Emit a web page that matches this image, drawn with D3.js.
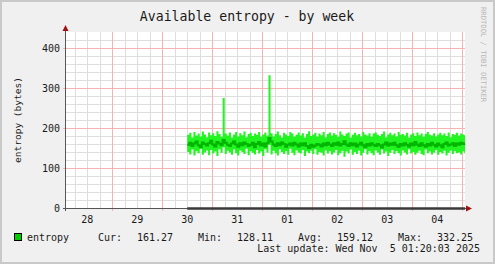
<!DOCTYPE html>
<html>
<head>
<meta charset="utf-8">
<script src="https://cdn.jsdelivr.net/npm/d3@7"></script>
<style>
  body { margin: 0; background: #f0f0f0; }
  text { font-family: "DejaVu Sans Mono", monospace; fill: #1a1a1a; }
</style>
</head>
<body>
<div id="visualize"></div>
<script>
// hourly samples starting Oct 30 12:00
var maxValues = [
  183,188,176,190,181,186,179,191,184,177,
  189,182,187,180,192,185,178,275,186,181,
  189,176,184,190,179,187,182,191,177,185,
  188,180,186,183,190,178,184,189,181,332,
  187,179,185,191,182,176,188,184,180,190,
  186,178,183,189,181,187,176,185,192,180,
  184,188,179,186,182,190,177,185,189,181,
  187,183,178,191,184,180,186,189,176,183,
  188,182,185,179,190,184,181,187,178,186,
  189,183,180,185,191,177,184,188,182,186,
  179,190,183,185,181,188,176,184,187,180,
  189,182,186,178,185,190,183,181,187,179,
  184,188,182,186,180,189,177,185,183,188,
  181,186,184,182
];
var minValues = [
  140,134,146,131,142,137,148,133,139,144,
  132,145,136,141,130,147,138,152,135,143,
  139,133,146,137,131,144,140,135,148,132,
  142,138,134,145,136,141,130,147,139,158,
  134,143,137,131,146,140,135,142,133,148,
  138,132,144,139,136,145,130,141,137,143,
  135,147,133,140,138,131,144,136,142,134,
  139,145,132,137,143,128,141,136,146,133,
  140,135,143,131,138,147,134,142,137,132,
  144,139,133,146,136,141,130,138,145,135,
  142,137,131,144,139,134,147,136,140,133,
  138,143,135,132,146,137,141,134,139,145,
  133,140,136,143,131,138,144,135,142,137,
  139,134,141,136
];
var avgValues = [
  158,163,155,161,166,157,152,164,160,156,
  162,168,159,154,165,161,157,170,163,158,
  155,161,166,159,153,162,157,164,160,155,
  158,163,152,160,165,156,161,154,162,175,
  166,159,155,162,157,164,160,153,158,161,
  156,163,159,154,161,157,162,155,150,158,
  153,156,160,158,154,161,157,163,159,155,
  162,158,164,156,160,167,159,155,162,157,
  161,154,159,163,157,152,160,156,162,158,
  155,160,157,151,159,164,156,161,158,163,
  157,153,160,156,162,158,154,161,157,165,
  159,155,162,157,153,160,156,163,158,154,
  161,157,152,160,164,156,159,162,155,161,
  158,163,160,161
];
var yTicks = [0, 100, 200, 300, 400];
var legendStats = [["Cur:", "161.27"], ["Min:", "128.11"], ["Avg:", "159.12"], ["Max:", "332.25"]];

var startTime = new Date(2025, 9, 28, 1, 20, 3);
var endTime = new Date(2025, 10, 5, 1, 20, 3);
var dataStart = new Date(2025, 9, 30, 12, 0, 0);

function drawGraph() {
  var width = 495, height = 264;
  var left = 65, right = 465, top = 32, bottom = 208;

  var data = maxValues.map(function(d, i) {
    return { t: d3.timeHour.offset(dataStart, i), max: d, min: minValues[i], avg: avgValues[i] };
  });
  data.push({ t: endTime, max: maxValues[maxValues.length - 1], min: minValues[minValues.length - 1], avg: avgValues[avgValues.length - 1] });

  var x = d3.scaleTime().domain([startTime, endTime]).range([left, right]);
  var y = d3.scaleLinear().domain([0, 440]).range([bottom, top]);

  var svg = d3.select("#visualize").append("svg")
      .attr("width", width)
      .attr("height", height);

  // frame
  svg.append("rect")
      .attr("x", 1).attr("y", 1)
      .attr("width", width - 2).attr("height", height - 2)
      .style("fill", "#f0f0f0")
      .style("stroke", "#c9c9c9")
      .style("stroke-width", 2);

  svg.append("rect")
      .attr("x", left).attr("y", top)
      .attr("width", right - left).attr("height", bottom - top)
      .style("fill", "#ffffff");

  // minor grid
  var minorX = d3.timeHour.every(6).range(startTime, endTime);
  svg.append("g").selectAll("line")
      .data(minorX)
    .enter().append("line")
      .attr("x1", function(d) { return Math.round(x(d)) + 0.5; })
      .attr("x2", function(d) { return Math.round(x(d)) + 0.5; })
      .attr("y1", top).attr("y2", bottom)
      .style("stroke", "#dedede");

  svg.append("g").selectAll("line")
      .data(d3.range(20, 440, 20))
    .enter().append("line")
      .attr("x1", left).attr("x2", right)
      .attr("y1", function(d) { return Math.round(y(d)) + 0.5; })
      .attr("y2", function(d) { return Math.round(y(d)) + 0.5; })
      .style("stroke", "#dedede");

  // major grid
  var days = d3.timeDay.range(startTime, endTime);
  svg.append("g").selectAll("line")
      .data(days)
    .enter().append("line")
      .attr("x1", function(d) { return Math.round(x(d)) + 0.5; })
      .attr("x2", function(d) { return Math.round(x(d)) + 0.5; })
      .attr("y1", top).attr("y2", bottom + 3)
      .style("stroke", "#f5b3b3");

  svg.append("g").selectAll("line")
      .data(yTicks.slice(1))
    .enter().append("line")
      .attr("x1", left - 2).attr("x2", right)
      .attr("y1", function(d) { return Math.round(y(d)) + 0.5; })
      .attr("y2", function(d) { return Math.round(y(d)) + 0.5; })
      .style("stroke", "#f5b3b3");

  // min/max band
  var band = d3.area()
      .curve(d3.curveStepAfter)
      .x(function(d) { return x(d.t); })
      .y0(function(d) { return y(d.min); })
      .y1(function(d) { return y(d.max); });

  svg.append("path")
      .datum(data)
      .attr("d", band)
      .style("fill", "#22f522");

  var avgLine = d3.line()
      .curve(d3.curveStepAfter)
      .x(function(d) { return x(d.t); })
      .y(function(d) { return y(d.avg); });

  svg.append("path")
      .datum(data)
      .attr("d", avgLine)
      .style("fill", "none")
      .style("stroke", "#00b400")
      .style("stroke-width", 2);

  // axes
  svg.append("line")
      .attr("x1", left + 0.5).attr("x2", left + 0.5)
      .attr("y1", top - 2).attr("y2", bottom + 3)
      .style("stroke", "#555");

  svg.append("line")
      .attr("x1", left - 2).attr("x2", right + 3)
      .attr("y1", bottom + 0.5).attr("y2", bottom + 0.5)
      .style("stroke", "#555");

  svg.append("line")
      .attr("x1", x(dataStart)).attr("x2", right)
      .attr("y1", bottom + 0.5).attr("y2", bottom + 0.5)
      .style("stroke", "#3a3a3a")
      .style("stroke-width", 2.5);

  svg.append("path")
      .attr("d", "M" + (left - 2.5) + "," + (top - 1) + "L" + (left + 0.5) + "," + (top - 7) + "L" + (left + 3.5) + "," + (top - 1) + "Z")
      .style("fill", "#a01010");

  svg.append("path")
      .attr("d", "M" + (right + 1) + "," + (bottom - 2.5) + "L" + (right + 7) + "," + (bottom + 0.5) + "L" + (right + 1) + "," + (bottom + 3.5) + "Z")
      .style("fill", "#a01010");

  // tick labels
  svg.append("g").selectAll("text")
      .data(yTicks)
    .enter().append("text")
      .attr("x", left - 5)
      .attr("y", function(d) { return y(d) + 4; })
      .style("font-size", "10px")
      .style("text-anchor", "end")
      .text(function(d) { return d; });

  // day labels sit at noon
  svg.append("g").selectAll("text")
      .data(days.map(function(d) { return d3.timeHour.offset(d, -12); }))
    .enter().append("text")
      .attr("x", function(d) { return x(d); })
      .attr("y", 223)
      .style("font-size", "10px")
      .style("text-anchor", "middle")
      .text(function(d) { return d3.timeFormat("%d")(d); });

  // title and axis label
  svg.append("text")
      .attr("x", 247)
      .attr("y", 21)
      .style("font-size", "13.2px")
      .style("text-anchor", "middle")
      .text("Available entropy - by week");

  svg.append("text")
      .attr("transform", "rotate(-90)")
      .attr("y", 21)
      .attr("x", -120)
      .style("font-size", "9.5px")
      .style("text-anchor", "middle")
      .text("entropy (bytes)");

  svg.append("text")
      .attr("transform", "translate(481,7) rotate(90)")
      .style("font-size", "7.2px")
      .style("fill", "#b8b8b8")
      .text("RRDTOOL / TOBI OETIKER");

  // legend
  svg.append("rect")
      .attr("x", 14.5).attr("y", 233.5)
      .attr("width", 7).attr("height", 7)
      .style("fill", "#00cc00")
      .style("stroke", "#000");

  svg.append("text")
      .attr("x", 27).attr("y", 241)
      .style("font-size", "10px")
      .text("entropy");

  var legend = svg.selectAll(".legend")
      .data(legendStats)
    .enter().append("g")
      .attr("class", "legend")
      .attr("transform", function(d, i) { return "translate(" + (98 + i * 100) + ",241)"; });

  legend.append("text")
      .style("font-size", "10px")
      .text(function(d) { return d[0]; });

  legend.append("text")
      .attr("x", 75)
      .style("font-size", "10px")
      .style("text-anchor", "end")
      .text(function(d) { return d[1]; });

  svg.append("text")
      .attr("x", 480).attr("y", 252)
      .style("font-size", "10px")
      .style("text-anchor", "end")
      .style("white-space", "pre")
      .attr("xml:space", "preserve")
      .text("Last update: Wed Nov  5 01:20:03 2025");
}

drawGraph();
</script>
</body>
</html>
